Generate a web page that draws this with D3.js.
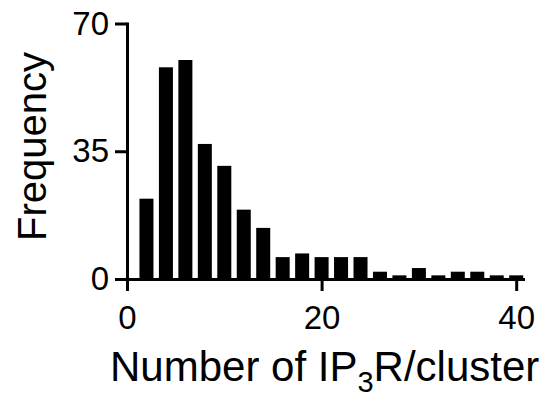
<!DOCTYPE html>
<meta charset="utf-8">
<style>
body { margin: 0; background: #fff; }
svg { font-family: Arial, "Liberation Sans", sans-serif; }
.axis path, .axis line { stroke: #000; stroke-width: 3; }
.axis text { font-size: 33px; fill: #000; }
.bar { fill: #000; }
.title { font-size: 40px; fill: #000; }
</style>
<svg id="chart" width="556" height="406"></svg>
<script src="https://d3js.org/d3.v7.min.js"></script>
<script>

// histogram bins (bin centre) and counts
var binCenters = [2, 4, 6, 8, 10, 12, 14, 16, 18, 20, 22, 24, 26, 28, 30, 32, 34, 36, 38, 40];
var counts     = [22, 58, 60, 37, 31, 19, 14, 6, 7, 6, 6, 6, 2, 1, 3, 1, 2, 2, 1, 1];
var xTicks = [0, 20, 40];
var yTicks = [0, 35, 70];

var svg = d3.select("#chart");

var x = d3.scaleLinear().domain([0, 40.7]).range([127, 523]);
var y = d3.scaleLinear().domain([0, 70]).range([279, 23.5]);

var barHalf = 0.72;

svg.selectAll(".bar")
    .data(binCenters)
  .enter().append("rect")
    .attr("class", "bar")
    .attr("x", function(d) { return x(d - barHalf); })
    .attr("width", function(d) { return x(d + barHalf) - x(d - barHalf); })
    .attr("y", function(d, i) { return y(counts[i]); })
    .attr("height", function(d, i) { return y(0) - y(counts[i]); });

svg.append("g")
    .attr("class", "axis")
    .attr("transform", "translate(" + x(0) + ",0)")
    .call(d3.axisLeft(y).tickValues(yTicks).tickSize(12).tickSizeOuter(0).tickPadding(6));

svg.append("g")
    .attr("class", "axis")
    .attr("transform", "translate(0," + y(0) + ")")
    .call(d3.axisBottom(x).tickValues(xTicks).tickSize(12).tickSizeOuter(0).tickPadding(15));

svg.selectAll(".axis .domain").attr("stroke-linecap", "square");

// axis titles
svg.append("text")
    .attr("class", "title")
    .attr("transform", "translate(46,146.5) rotate(-90)")
    .attr("text-anchor", "middle")
    .text("Frequency");

var xt = svg.append("text")
    .attr("class", "title")
    .style("font-size", "42px")
    .attr("x", 110)
    .attr("y", 381);
xt.append("tspan").text("Number of IP");
xt.append("tspan").attr("dy", 11).style("font-size", "29px").text("3");
xt.append("tspan").attr("dy", -11).text("R/cluster");

</script>
